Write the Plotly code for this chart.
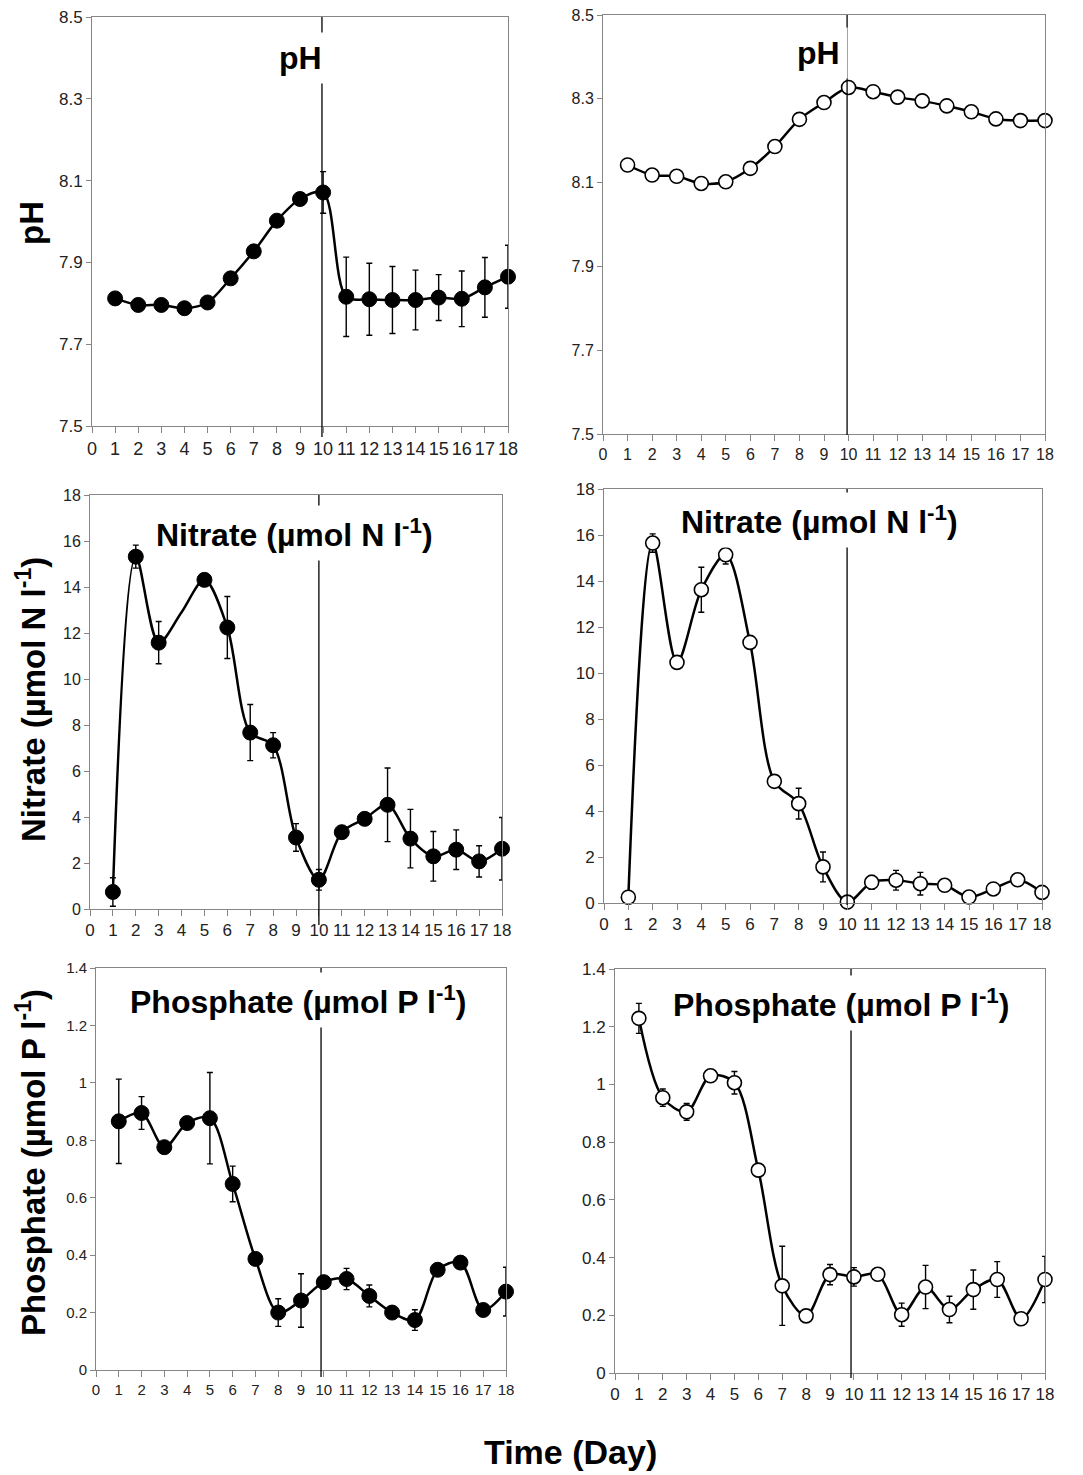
import plotly.graph_objects as go

W, H = 1083, 1475
OFF = 8  # page body margin offset in the browser

days = list(range(1, 19))
x_ticks = list(range(0, 19))

# ---- data ----
ph_closed = [7.812, 7.796, 7.796, 7.788, 7.802, 7.861, 7.927, 8.002, 8.055, 8.071,
             7.816, 7.810, 7.808, 7.808, 7.814, 7.811, 7.839, 7.865]
ph_closed_err = [0, 0, 0, 0, 0, 0, 0, 0, 0, 0.051,
                 0.097, 0.088, 0.082, 0.073, 0.056, 0.068, 0.073, 0.077]
ph_open = [8.142, 8.118, 8.115, 8.098, 8.102, 8.134, 8.186, 8.251, 8.291, 8.327,
           8.317, 8.304, 8.295, 8.283, 8.269, 8.252, 8.248, 8.248]
ph_open_err = [0] * 18

nitrate_closed = [0.74, 15.32, 11.58, 12.9, 14.31, 12.24, 7.67, 7.12, 3.11, 1.27,
                  3.34, 3.92, 4.53, 3.06, 2.29, 2.58, 2.07, 2.62]
nitrate_closed_err = [0.62, 0.5, 0.92, 0, 0, 1.35, 1.22, 0.55, 0.6, 0.45,
                      0, 0, 1.6, 1.27, 1.08, 0.86, 0.68, 1.36]
nitrate_closed_marked = [True, True, True, False] + [True] * 14
nitrate_open = [0.25, 15.65, 10.46, 13.62, 15.14, 11.33, 5.29, 4.32, 1.57, 0.04,
                0.9, 0.99, 0.84, 0.77, 0.26, 0.61, 1.01, 0.46]
nitrate_open_err = [0, 0.4, 0, 0.98, 0.4, 0, 0, 0.67, 0.65, 0,
                    0.3, 0.43, 0.49, 0, 0, 0, 0, 0]

phosphate_closed = [0.866, 0.895, 0.776, 0.860, 0.877, 0.648, 0.387, 0.200, 0.242, 0.306,
                    0.317, 0.258, 0.200, 0.174, 0.349, 0.374, 0.209, 0.273]
phosphate_closed_err = [0.147, 0.057, 0, 0, 0.159, 0.062, 0, 0.048, 0.093, 0,
                        0.037, 0.038, 0, 0.036, 0, 0, 0, 0.085]
phosphate_open = [1.229, 0.954, 0.905, 1.030, 1.006, 0.703, 0.302, 0.198, 0.341, 0.333,
                  0.342, 0.202, 0.298, 0.220, 0.289, 0.324, 0.188, 0.324]
phosphate_open_err = [0.052, 0.03, 0.029, 0, 0.039, 0, 0.137, 0, 0.035, 0.032,
                      0, 0.04, 0.075, 0.046, 0.068, 0.062, 0.015, 0.08]

ph_ticks = [7.5, 7.7, 7.9, 8.1, 8.3, 8.5]
ph_ticklabels = ["7.5", "7.7", "7.9", "8.1", "8.3", "8.5"]
nitrate_ticks = [0, 2, 4, 6, 8, 10, 12, 14, 16, 18]
nitrate_ticklabels = [str(v) for v in nitrate_ticks]
phosphate_ticks = [0, 0.2, 0.4, 0.6, 0.8, 1.0, 1.2, 1.4]
phosphate_ticklabels = ["0", "0.2", "0.4", "0.6", "0.8", "1", "1.2", "1.4"]

divider_day = [9.95, 9.94, 10.0, 9.99, 9.88, 9.88]

ph_title = "pH"
nitrate_title = "Nitrate (µmol N l<sup>-1</sup>)"
phosphate_title = "Phosphate (µmol P l<sup>-1</sup>)"
x_title = "Time (Day)"

# ---- layout (pixel boxes in the final picture: left, right, top, bottom) ----
panels = [
    dict(box=(92, 508, 17, 426), vals=ph_closed, err=ph_closed_err, mask=None, filled=True,
         yr=(7.5, 8.5), yt=ph_ticks, ytl=ph_ticklabels, title=ph_title, tpos=(300, 58),
         xfs=18, yfs=17, ext=11),
    dict(box=(603, 1045, 15, 434), vals=ph_open, err=ph_open_err, mask=None, filled=False,
         yr=(7.5, 8.5), yt=ph_ticks, ytl=ph_ticklabels, title=ph_title, tpos=(818, 53),
         xfs=16, yfs=16, ext=1),
    dict(box=(90, 502, 495, 909), vals=nitrate_closed, err=nitrate_closed_err,
         mask=nitrate_closed_marked, filled=True,
         yr=(0, 18), yt=nitrate_ticks, ytl=nitrate_ticklabels, title=nitrate_title, tpos=(294, 533),
         xfs=17, yfs=16, ext=16),
    dict(box=(604, 1042, 489, 903), vals=nitrate_open, err=nitrate_open_err, mask=None, filled=False,
         yr=(0, 18), yt=nitrate_ticks, ytl=nitrate_ticklabels, title=nitrate_title, tpos=(820, 520),
         xfs=17, yfs=17, ext=2),
    dict(box=(96, 506, 968, 1370), vals=phosphate_closed, err=phosphate_closed_err, mask=None, filled=True,
         yr=(0, 1.4), yt=phosphate_ticks, ytl=phosphate_ticklabels, title=phosphate_title, tpos=(298, 1000),
         xfs=15, yfs=15, ext=7),
    dict(box=(615, 1045, 969, 1373), vals=phosphate_open, err=phosphate_open_err, mask=None, filled=False,
         yr=(0, 1.4), yt=phosphate_ticks, ytl=phosphate_ticklabels, title=phosphate_title, tpos=(841, 1003),
         xfs=17, yfs=17, ext=5),
]

FONT = "Liberation Sans, Arial, sans-serif"
AXIS_COLOR = "#868686"
TICK_COLOR = "#222222"


def px(x):
    return (x - OFF) / W


def py(y):
    return 1 - (y - OFF) / H


fig = go.Figure()
layout = dict(template="none", width=W, height=H,
              margin=dict(l=0, r=0, t=0, b=0, pad=0, autoexpand=False),
              paper_bgcolor="white", plot_bgcolor="white", showlegend=False,
              font=dict(family=FONT, color="black"))
annotations = []
shapes = []

for i, p in enumerate(panels):
    n = i + 1
    xa = "x" if n == 1 else f"x{n}"
    ya = "y" if n == 1 else f"y{n}"
    l, r, t, b = p["box"]
    ph_h = b - t
    # line through all values
    fig.add_trace(go.Scatter(
        x=days, y=p["vals"], mode="lines", xaxis=xa, yaxis=ya,
        line=dict(color="black", width=2.5, shape="spline", smoothing=0.9),
        cliponaxis=False, hoverinfo="skip"))
    mvals = p["vals"] if p["mask"] is None else [v if m else None for v, m in zip(p["vals"], p["mask"])]
    if p["filled"]:
        marker = dict(size=15, color="black", line=dict(color="black", width=1))
    else:
        marker = dict(size=14, color="white", line=dict(color="black", width=1.6))
    fig.add_trace(go.Scatter(
        x=days, y=mvals, mode="markers", xaxis=xa, yaxis=ya, marker=marker,
        error_y=dict(type="data", array=p["err"], visible=True, color="black",
                     thickness=1.4, width=3),
        cliponaxis=False))
    axkey_x = "xaxis" if n == 1 else f"xaxis{n}"
    axkey_y = "yaxis" if n == 1 else f"yaxis{n}"
    layout[axkey_x] = dict(
        domain=[px(l), px(r)], anchor=ya, range=[0, 18], tickmode="array",
        tickvals=x_ticks, ticktext=[str(v) for v in x_ticks], tickangle=0, automargin=False,
        ticklabeloverflow="allow",
        showline=True, linecolor=AXIS_COLOR, linewidth=1, mirror=True,
        ticks="outside", ticklen=6, tickcolor=AXIS_COLOR, showgrid=False, zeroline=False,
        tickfont=dict(size=p["xfs"], color=TICK_COLOR, family=FONT), fixedrange=True)
    layout[axkey_y] = dict(
        domain=[py(b), py(t)], anchor=xa, range=list(p["yr"]), tickmode="array",
        tickvals=p["yt"], ticktext=p["ytl"], automargin=False, ticklabeloverflow="allow",
        showline=True, linecolor=AXIS_COLOR, linewidth=1, mirror=True,
        ticks="outside", ticklen=5, tickcolor=AXIS_COLOR, showgrid=False, zeroline=False,
        tickfont=dict(size=p["yfs"], color=TICK_COLOR, family=FONT), fixedrange=True)
    # divider line
    shapes.append(dict(type="line", xref=xa, yref=f"{ya} domain",
                       x0=divider_day[i], x1=divider_day[i], y0=-p["ext"] / ph_h, y1=1,
                       line=dict(color="black", width=1.3), layer="above"))
    # panel title
    tx, ty = p["tpos"]
    annotations.append(dict(text=f"<b>{p['title']}</b>", x=px(tx), y=py(ty),
                            xref="paper", yref="paper", showarrow=False,
                            xanchor="center", yanchor="middle", bgcolor="white", borderpad=7,
                            font=dict(size=32, color="black", family=FONT)))

# y axis titles
for text, cy in [(ph_title, 223), (nitrate_title, 700), (phosphate_title, 1163)]:
    annotations.append(dict(text=f"<b>{text}</b>", x=px(31), y=py(cy),
                            xref="paper", yref="paper", showarrow=False, textangle=-90,
                            xanchor="center", yanchor="middle",
                            font=dict(size=33, color="black", family=FONT)))
annotations.append(dict(text=f"<b>{x_title}</b>", x=px(570), y=py(1452),
                        xref="paper", yref="paper", showarrow=False,
                        xanchor="center", yanchor="middle",
                        font=dict(size=34, color="black", family=FONT)))

layout["annotations"] = annotations
layout["shapes"] = shapes
fig.update_layout(**layout)
fig.write_html("out.html")
